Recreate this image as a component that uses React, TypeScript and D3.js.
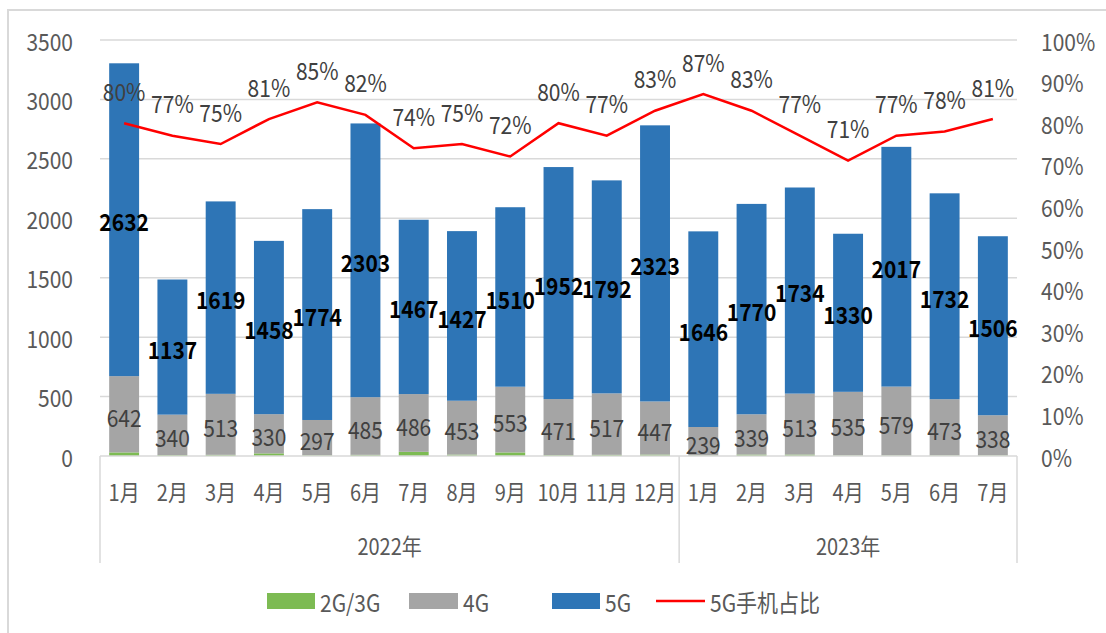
import React from "react";
import * as d3 from "d3";

const months = ["1月", "2月", "3月", "4月", "5月", "6月", "7月", "8月", "9月", "10月", "11月", "12月", "1月", "2月", "3月", "4月", "5月", "6月", "7月"];
const years = ["2022年", "2022年", "2022年", "2022年", "2022年", "2022年", "2022年", "2022年", "2022年", "2022年", "2022年", "2022年", "2023年", "2023年", "2023年", "2023年", "2023年", "2023年", "2023年"];
const g23 = [30, 8, 10, 22, 6, 10, 35, 12, 30, 8, 10, 12, 5, 12, 12, 5, 5, 5, 5];
const g4 = [642, 340, 513, 330, 297, 485, 486, 453, 553, 471, 517, 447, 239, 339, 513, 535, 579, 473, 338];
const g5 = [2632, 1137, 1619, 1458, 1774, 2303, 1467, 1427, 1510, 1952, 1792, 2323, 1646, 1770, 1734, 1330, 2017, 1732, 1506];
const share = [80, 77, 75, 81, 85, 82, 74, 75, 72, 80, 77, 83, 87, 83, 77, 71, 77, 78, 81];
const leftTicks = [0, 500, 1000, 1500, 2000, 2500, 3000, 3500];
const rightTicks = [0, 10, 20, 30, 40, 50, 60, 70, 80, 90, 100];

const W = 1106;
const H = 633;
const FONT = "'Noto Sans CJK SC', 'Noto Sans', sans-serif";
const C23 = "#7dbb53";
const C4 = "#a5a5a5";
const C5 = "#2e75b6";
const TXT = "#595959";

// text slightly stretched vertically, like the original's font
function T({ x, y, children, anchor = "middle", size = 21, fill = TXT, weight = 400 }: any) {
  return (
    <text
      transform={`translate(${x},${y}) scale(1,1.13)`}
      textAnchor={anchor}
      dominantBaseline="central"
      fontSize={size}
      fontWeight={weight}
      fill={fill}
    >
      {children}
    </text>
  );
}

export default function App() {
  const left = 100;
  const right = 1017;
  const top = 40;
  const bottom = 456;

  const x = d3
    .scaleBand<number>()
    .domain(d3.range(months.length))
    .range([left, right])
    .paddingInner(0.38)
    .paddingOuter(0.19);
  const y = d3.scaleLinear().domain([0, 3500]).range([bottom, top]);
  const yr = d3.scaleLinear().domain([0, 100]).range([bottom, top]);
  const step = x.step();
  const cx = (i: number) => (x(i) as number) + x.bandwidth() / 2;

  const line = d3
    .line<number>()
    .x((_, i) => cx(i))
    .y((d) => yr(d));

  // year groups
  const groups: { name: string; start: number; end: number }[] = [];
  years.forEach((yy, i) => {
    const last = groups[groups.length - 1];
    if (last && last.name === yy) last.end = i;
    else groups.push({ name: yy, start: i, end: i });
  });
  const edge = (i: number) => left + i * step;

  return (
    <svg width={W} height={H} style={{ position: "absolute", left: 0, top: 0, background: "#fff" }} fontFamily={FONT}>
      <rect x={8} y={10} width={W + 20} height={H + 20} fill="#fff" stroke="#d9d9d9" strokeWidth={2} />

      {/* grid */}
      {leftTicks.slice(1).map((t) => (
        <line key={t} x1={left} x2={right} y1={y(t)} y2={y(t)} stroke="#d9d9d9" strokeWidth={1.5} />
      ))}

      {/* bars */}
      {months.map((_, i) => {
        const b0 = y(0);
        const b1 = y(g23[i]);
        const b2 = y(g23[i] + g4[i]);
        const b3 = y(g23[i] + g4[i] + g5[i]);
        return (
          <g key={i}>
            <rect x={x(i)} y={b1} width={x.bandwidth()} height={b0 - b1} fill={C23} />
            <rect x={x(i)} y={b2} width={x.bandwidth()} height={b1 - b2} fill={C4} />
            <rect x={x(i)} y={b3} width={x.bandwidth()} height={b2 - b3} fill={C5} />
          </g>
        );
      })}

      {/* axis line + group separators */}
      <line x1={left} x2={right} y1={bottom} y2={bottom} stroke="#d9d9d9" strokeWidth={1.5} />
      {groups.map((g, k) => (
        <line key={k} x1={edge(g.start)} x2={edge(g.start)} y1={bottom} y2={563} stroke="#d9d9d9" strokeWidth={1.5} />
      ))}
      <line x1={right} x2={right} y1={bottom} y2={563} stroke="#d9d9d9" strokeWidth={1.5} />

      {/* share line */}
      <path d={line(share) || ""} fill="none" stroke="#ff0000" strokeWidth={2.5} />

      {/* labels */}
      {months.map((m, i) => {
        const mid4 = (y(g23[i]) + y(g23[i] + g4[i])) / 2;
        const mid5 = (y(g23[i] + g4[i]) + y(g23[i] + g4[i] + g5[i])) / 2;
        return (
          <g key={"l" + i}>
            <T x={cx(i)} y={mid4 + 2} fill="#404040">{g4[i]}</T>
            <T x={cx(i)} y={mid5 + 1} fill="#000" weight={700}>{g5[i]}</T>
            <T x={cx(i)} y={yr(share[i]) - 33} fill="#404040">{share[i] + "%"}</T>
            <T x={cx(i)} y={491} size={20}>{m}</T>
          </g>
        );
      })}

      {groups.map((g, k) => (
        <T key={"y" + k} x={(edge(g.start) + edge(g.end + 1)) / 2} y={545} size={20}>
          {g.name}
        </T>
      ))}

      {/* left axis */}
      {leftTicks.map((t) => (
        <T key={"a" + t} x={73} y={y(t)} anchor="end">{t}</T>
      ))}
      {/* right axis */}
      {rightTicks.map((t) => (
        <T key={"r" + t} x={1041} y={yr(t)} anchor="start">{t + "%"}</T>
      ))}

      {/* legend */}
      <rect x={267} y={593} width={48} height={16} fill={C23} />
      <T x={320} y={601} anchor="start">2G/3G</T>
      <rect x={409} y={593} width={49} height={16} fill={C4} />
      <T x={463} y={601} anchor="start">4G</T>
      <rect x={552} y={593} width={48} height={16} fill={C5} />
      <T x={605} y={601} anchor="start">5G</T>
      <line x1={656} x2={705} y1={601} y2={601} stroke="#ff0000" strokeWidth={2.5} />
      <T x={710} y={601} anchor="start">5G手机占比</T>
    </svg>
  );
}
